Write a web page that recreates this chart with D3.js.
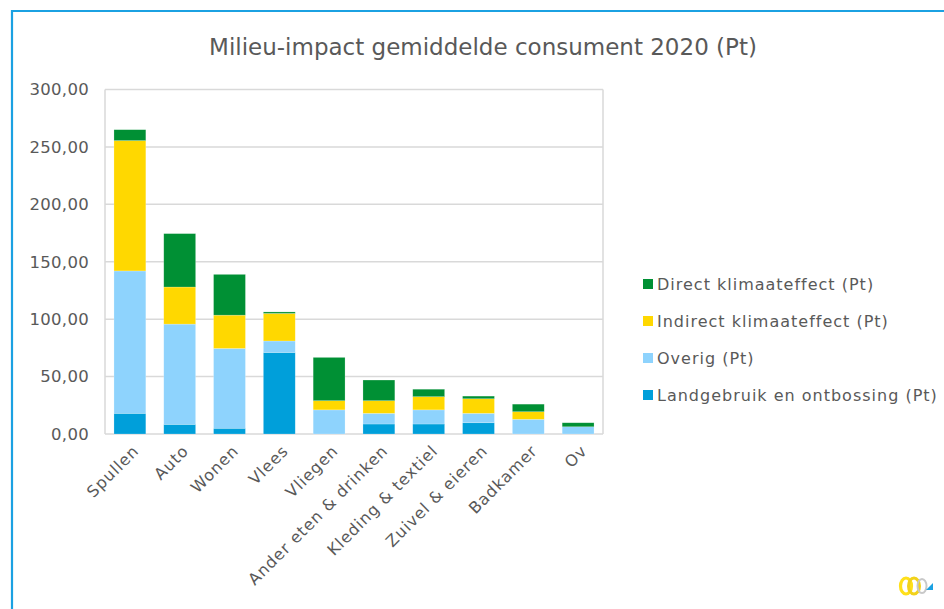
<!DOCTYPE html>
<html>
<head>
<meta charset="utf-8">
<script src="https://cdn.jsdelivr.net/npm/d3@7"></script>
<style>
html,body{margin:0;padding:0;background:#fff;}
svg{display:block;}
text{font-family:"DejaVu Sans","Liberation Sans",sans-serif;fill:#595959;}
</style>
</head>
<body>
<svg id="chart" width="944" height="609"></svg>
<script>
const title = "Milieu-impact gemiddelde consument 2020 (Pt)";
const categories = ["Spullen","Auto","Wonen","Vlees","Vliegen","Ander eten & drinken","Kleding & textiel","Zuivel & eieren","Badkamer","Ov"];
const seriesNames = ["Landgebruik en ontbossing (Pt)","Overig (Pt)","Indirect klimaateffect (Pt)","Direct klimaateffect (Pt)"];
const landgebruik = [18, 8.4, 5, 71, 0, 8.7, 8.7, 9.8, 0, 0];
const overig      = [124, 87.3, 69.5, 10, 21, 9.3, 12.3, 8.2, 12.8, 6.3];
const indirect    = [113.5, 32.3, 29, 24, 8, 11, 11.5, 12.7, 6.6, 0];
const direct      = [9.5, 46.5, 35.5, 1.3, 37.7, 18, 6.5, 2.3, 6.6, 3.5];
const yTicks = [0, 50, 100, 150, 200, 250, 300];
const colors = ["#009fda", "#8ed3fd", "#ffd800", "#009034"];

const svg = d3.select("#chart");

// outer frame
svg.append("path").attr("d", "M12,609 V11 H944")
  .attr("fill", "none").attr("stroke", "#1ba1e2").attr("stroke-width", 2.2);

const plot = {left: 105, right: 603, top: 89.5, bottom: 434};
const x = d3.scaleBand().domain(categories).range([plot.left, plot.right]).paddingInner(0.36).paddingOuter(0.18);
const y = d3.scaleLinear().domain([0, 300]).range([plot.bottom, plot.top]);

// gridlines
svg.append("g").selectAll("line").data(yTicks).join("line")
  .attr("x1", plot.left).attr("x2", plot.right)
  .attr("y1", d => y(d)).attr("y2", d => y(d))
  .attr("stroke", "#d9d9d9").attr("stroke-width", 1.5);
// plot border verticals
svg.append("g").selectAll("line").data([plot.left, plot.right]).join("line")
  .attr("x1", d => d).attr("x2", d => d)
  .attr("y1", y(300)).attr("y2", y(0))
  .attr("stroke", "#d9d9d9").attr("stroke-width", 1.5);

// stacked data
const rows = categories.map((c, i) => ({cat: c, s0: landgebruik[i], s1: overig[i], s2: indirect[i], s3: direct[i]}));
const stack = d3.stack().keys(["s0","s1","s2","s3"])(rows);

svg.append("g").selectAll("g").data(stack).join("g")
  .attr("fill", (d, i) => colors[i])
  .selectAll("rect").data(d => d).join("rect")
  .attr("x", d => x(d.data.cat))
  .attr("width", x.bandwidth())
  .attr("y", d => y(d[1]))
  .attr("height", d => Math.max(0, y(d[0]) - y(d[1])))
  .attr("stroke", "#ffffff").attr("stroke-opacity", 0.35).attr("stroke-width", 0.6);

// y axis labels
const fmt = v => d3.format(".2f")(v).replace(".", ",");
svg.append("g").selectAll("text").data(yTicks).join("text")
  .attr("x", 89).attr("y", d => y(d))
  .attr("dy", "0.35em").attr("text-anchor", "end")
  .attr("font-size", 16.5).attr("letter-spacing", 0.3).text(fmt);

// x axis labels
svg.append("g").selectAll("text").data(categories).join("text")
  .attr("transform", d => `translate(${x(d) + x.bandwidth()/2 + 6},${plot.bottom + 14}) rotate(-45)`)
  .attr("text-anchor", "end").attr("dy", "0.35em")
  .attr("font-size", 16).attr("letter-spacing", 0.9).text(d => d);

// title
const t = svg.append("text").attr("x", 483).attr("y", 47).attr("dy", "0.35em")
  .attr("text-anchor", "middle").attr("font-size", 20).text(title);
const tl = t.node().getComputedTextLength();
t.attr("font-size", 20 * 548 / tl);

// legend
const legendOrder = [3, 2, 1, 0];
const lg = svg.append("g").selectAll("g").data(legendOrder).join("g")
  .attr("transform", (d, i) => `translate(643,${284 + i * 37})`);
lg.append("rect").attr("x", 0).attr("y", -5).attr("width", 10).attr("height", 10)
  .attr("fill", d => colors[d]);
lg.append("text").attr("x", 14).attr("dy", "0.35em").attr("font-size", 16)
  .attr("letter-spacing", 1).text(d => seriesNames[d]);

// logo (approximate)
const logo = svg.append("g").attr("transform", "translate(911,586)");
logo.append("ellipse").attr("cx", -5).attr("cy", 0).attr("rx", 5.5).attr("ry", 8)
  .attr("fill", "none").attr("stroke", "#ffe01a").attr("stroke-width", 3.2);
logo.append("ellipse").attr("cx", 3).attr("cy", 0).attr("rx", 5.5).attr("ry", 8)
  .attr("fill", "none").attr("stroke", "#f2d21a").attr("stroke-width", 3);
logo.append("ellipse").attr("cx", 11).attr("cy", 0).attr("rx", 4.5).attr("ry", 7)
  .attr("fill", "none").attr("stroke", "#c8c8c8").attr("stroke-width", 2);
logo.append("path").attr("d", "M15,4 L22,4 L22,-3 Z").attr("fill", "#1ba1e2");
</script>
</body>
</html>
